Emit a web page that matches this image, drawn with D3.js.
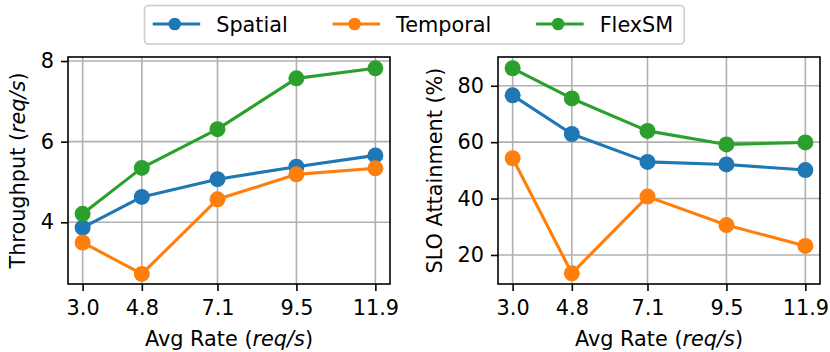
<!DOCTYPE html>
<html>
<head>
<meta charset="utf-8">
<script src="https://cdn.jsdelivr.net/npm/d3@7"></script>
<style>
  html, body { margin: 0; padding: 0; background: #fff; }
  svg { display: block; font-family: "DejaVu Sans", sans-serif; }
</style>
</head>
<body>
<svg id="chart" width="830" height="352"></svg>
<script>
// ---- data ----
const rates = [3.0, 4.8, 7.1, 9.5, 11.9];
const xTickLabels = ["3.0", "4.8", "7.1", "9.5", "11.9"];
const seriesNames = ["Spatial", "Temporal", "FlexSM"];
const seriesColors = ["#1f77b4", "#ff7f0e", "#2ca02c"];

const throughputSpatial  = [3.87, 4.63, 5.07, 5.38, 5.66];
const throughputTemporal = [3.50, 2.72, 4.57, 5.19, 5.34];
const throughputFlexSM   = [4.21, 5.35, 6.31, 7.57, 7.82];

const sloSpatial  = [76.6, 62.9, 53.0, 52.1, 50.1];
const sloTemporal = [54.3, 13.5, 40.7, 30.6, 23.2];
const sloFlexSM   = [86.2, 75.5, 64.0, 59.2, 59.9];

const leftYTicks = [4, 6, 8];
const rightYTicks = [20, 40, 60, 80];

// ---- setup ----
const svg = d3.select("#chart");
const FS = 20.8;
const gridColor = "#b0b0b0";

function panel(opts) {
  const { x0, x1, y0, y1, yDomain, yTicks, series, yLabel, yLabelX } = opts;
  const x = d3.scaleLinear().domain([2.555, 12.345]).range([x0, x1]);
  const y = d3.scaleLinear().domain(yDomain).range([y1, y0]);
  const g = svg.append("g");

  // grid
  g.append("g").selectAll("line").data(rates).join("line")
    .attr("x1", d => x(d)).attr("x2", d => x(d))
    .attr("y1", y0).attr("y2", y1)
    .attr("stroke", gridColor).attr("stroke-width", 1.6);
  g.append("g").selectAll("line").data(yTicks).join("line")
    .attr("x1", x0).attr("x2", x1)
    .attr("y1", d => y(d)).attr("y2", d => y(d))
    .attr("stroke", gridColor).attr("stroke-width", 1.6);

  // series
  series.forEach((vals, i) => {
    const pts = rates.map((r, j) => [r, vals[j]]);
    g.append("path")
      .datum(pts)
      .attr("fill", "none")
      .attr("stroke", seriesColors[i])
      .attr("stroke-width", 3.1)
      .attr("stroke-linejoin", "round")
      .attr("d", d3.line().x(d => x(d[0])).y(d => y(d[1])));
    g.append("g").selectAll("circle").data(pts).join("circle")
      .attr("cx", d => x(d[0])).attr("cy", d => y(d[1]))
      .attr("r", 8).attr("fill", seriesColors[i]);
  });

  // axes
  const xAxis = d3.axisBottom(x).tickValues(rates)
    .tickFormat((d, i) => xTickLabels[i]).tickSize(7).tickPadding(9.5);
  const yAxis = d3.axisLeft(y).tickValues(yTicks)
    .tickFormat(d3.format("d")).tickSize(7).tickPadding(7);
  const gx = g.append("g").attr("transform", `translate(0,${y1})`).call(xAxis);
  const gy = g.append("g").attr("transform", `translate(${x0},0)`).call(yAxis);
  [gx, gy].forEach(a => {
    a.select(".domain").remove();
    a.selectAll(".tick line").attr("stroke", "#000").attr("stroke-width", 1.6);
    a.selectAll(".tick text").attr("fill", "#000")
      .style("font-size", FS + "px").style("font-family", "DejaVu Sans");
  });

  // frame
  g.append("rect").attr("x", x0).attr("y", y0)
    .attr("width", x1 - x0).attr("height", y1 - y0)
    .attr("fill", "none").attr("stroke", "#000").attr("stroke-width", 1.6);

  // x label
  const xl = g.append("text")
    .attr("x", (x0 + x1) / 2).attr("y", 346)
    .attr("text-anchor", "middle").style("font-size", FS + "px");
  xl.append("tspan").text("Avg Rate (");
  xl.append("tspan").attr("font-style", "italic").text("req/s");
  xl.append("tspan").text(")");

  // y label
  const yl = g.append("text")
    .attr("transform", `translate(${yLabelX},${(y0 + y1) / 2}) rotate(-90)`)
    .attr("text-anchor", "middle").style("font-size", FS + "px");
  yLabel.forEach(part => {
    yl.append("tspan").attr("font-style", part.italic ? "italic" : "normal").text(part.t);
  });
}

panel({
  x0: 68, x1: 390, y0: 57, y1: 284,
  yDomain: [2.47, 8.10], yTicks: leftYTicks,
  series: [throughputSpatial, throughputTemporal, throughputFlexSM],
  yLabel: [{ t: "Throughput (" }, { t: "req/s", italic: true }, { t: ")" }],
  yLabelX: 24.5
});

panel({
  x0: 498, x1: 820, y0: 57, y1: 284,
  yDomain: [9.7, 90.2], yTicks: rightYTicks,
  series: [sloSpatial, sloTemporal, sloFlexSM],
  yLabel: [{ t: "SLO Attainment (%)" }],
  yLabelX: 442
});

// ---- legend ----
const leg = svg.append("g");
const legBox = leg.append("rect")
  .attr("x", 144.5).attr("y", 5.5).attr("height", 38.5)
  .attr("rx", 4).attr("ry", 4)
  .attr("fill", "#fff").attr("fill-opacity", 0.8)
  .attr("stroke", "#cccccc").attr("stroke-width", 1.6);
let cx = 152.7;
const cy = 24;
seriesNames.forEach((name, i) => {
  leg.append("line").attr("x1", cx).attr("x2", cx + 47.5)
    .attr("y1", cy).attr("y2", cy)
    .attr("stroke", seriesColors[i]).attr("stroke-width", 3.1);
  leg.append("circle").attr("cx", cx + 22).attr("cy", cy).attr("r", 6.3)
    .attr("fill", seriesColors[i]);
  const t = leg.append("text").attr("x", cx + 63.5).attr("y", cy + 7.6)
    .style("font-size", FS + "px").text(name);
  const w = t.node().getComputedTextLength();
  cx = cx + 63.5 + w + 44.8;
});
legBox.attr("width", cx - 44.8 + 11 - 144.5);
</script>
</body>
</html>
